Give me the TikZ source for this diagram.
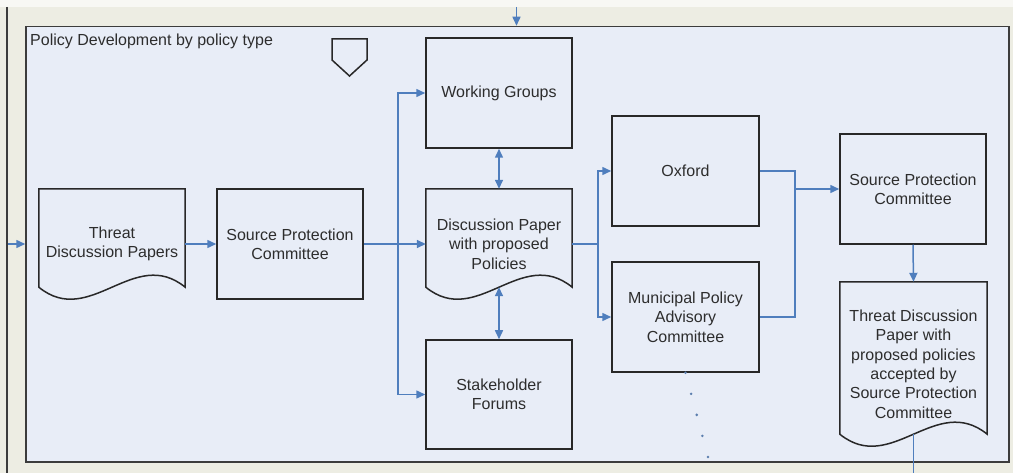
\documentclass[tikz,border=0pt]{standalone}
\usepackage{fontspec}
\setmainfont{Liberation Sans}
\usetikzlibrary{arrows.meta,calc}

\definecolor{pagebg}{RGB}{237,237,227}
\definecolor{topband}{RGB}{248,248,244}
\definecolor{lanefill}{RGB}{232,237,247}
\definecolor{laneedge}{RGB}{60,60,60}
\definecolor{boxedge}{RGB}{40,40,40}
\definecolor{flow}{RGB}{79,126,189}
\definecolor{txt}{RGB}{45,45,45}

% document symbol: straight top and sides, wavy bottom edge
\newcommand{\docoutline}[2]{%
  \draw[boxline] (#1.north west) -- ([yshift=12pt]#1.south west)
    .. controls ($([yshift=12pt]#1.south west)+(0.35*#2,41.6)$)
           and ($([yshift=12pt]#1.south east)+(-0.35*#2,-41.6)$)
    .. ([yshift=12pt]#1.south east) -- (#1.north east) -- cycle;}

\begin{document}
\begin{tikzpicture}[x=1pt,y=-1pt,
  font=\fontsize{16}{19.4}\selectfont,
  boxline/.style={draw=boxedge,line width=1.5pt,line join=miter},
  procbox/.style={boxline,fill=lanefill,text=txt,align=center,inner sep=0pt,
                  minimum width=146pt,minimum height=110pt},
  docbox/.style={text=txt,align=center,inner sep=0pt,minimum width=146pt},
  lane/.style={draw=laneedge,line width=1.5pt,fill=lanefill,inner sep=0pt,
               minimum width=983pt,minimum height=435.5pt},
  flowline/.style={draw=flow,line width=1.5pt},
  arr/.style={flowline,-{Triangle[length=9pt,width=8pt]}},
  biarr/.style={flowline,{Triangle[length=9pt,width=8pt]}-{Triangle[length=9pt,width=8pt]}},
  trail/.style={fill=flow!75!gray}
]
\useasboundingbox (0,0) rectangle (1013,473);

% page surround
\fill[pagebg] (0,0) rectangle (1013,473);
\fill[topband] (0,0) rectangle (1013,7);
\draw[laneedge,line width=1.2pt] (7,7) -- (7,473);

% swimlane container
\node[lane] (lane) at (517.5,244.25) {};
\node[anchor=base west,text=txt,inner sep=0pt] (title) at (30,46) {Policy Development by policy type};

% off-page reference marker
\draw[boxline,fill=lanefill] (332,39) -- (367,39) -- (367,60) -- (349.5,76) -- (332,60) -- cycle;

% process steps
\node[docbox,minimum height=110pt] (threat) at (112,244) {Threat\\Discussion Papers};
\node[procbox] (spc1) at (290,244) {Source Protection\\Committee};
\node[procbox] (wg) at (499,93) {Working Groups};
\node[docbox,minimum height=110pt] (dp) at (499,244) {Discussion Paper\\with proposed\\Policies};
\node[procbox,minimum height=109pt] (sf) at (499,394.5) {Stakeholder\\Forums};
\node[procbox,minimum width=147pt] (oxford) at (685.5,171) {Oxford};
\node[procbox,minimum width=147pt] (mpac) at (685.5,317) {Municipal Policy\\Advisory\\Committee};
\node[procbox] (spc2) at (913,189) {Source Protection\\Committee};
\node[docbox,minimum height=164pt,minimum width=147pt] (final) at (913.5,364)
  {Threat Discussion\\Paper with\\proposed policies\\accepted by\\Source Protection\\Committee};

\docoutline{threat}{146}
\docoutline{dp}{146}
\docoutline{final}{147}

% junction points
\coordinate (inleft) at (8,244);
\coordinate (intop) at (516.5,7);
\coordinate (j1) at (398,244);
\coordinate (j2) at (598,244);
\coordinate (j3) at (795,189);
\coordinate (outbottom) at (913.5,473);
\coordinate (trailend) at (708,457);

% connectors
\draw[arr] (inleft) -- (lane.west |- inleft);
\draw[arr] (intop) -- (intop |- lane.north);
\draw[arr] (threat.east) -- (spc1.west);
\draw[arr] (spc1.east) -- (dp.west);
\draw[arr] (j1) |- (wg.west);
\draw[arr] (j1) |- (sf.west);
\draw[biarr] (wg.south) -- (dp.north);
\draw[biarr] ([yshift=12pt]dp.south) -- (sf.north);
\draw[flowline] (dp.east) -- (j2);
\draw[arr] (j2) |- (oxford.west);
\draw[arr] (j2) |- (mpac.west);
\draw[flowline] (oxford.east) -| (j3) |- (mpac.east);
\draw[arr] (j3) -- (spc2.west);
\draw[arr] (spc2.south) -- (final.north);
\draw[flowline] ([yshift=12pt]final.south) -- (outbottom);

% dotted continuation below the municipal committee
\foreach \t in {0,0.25,0.5,0.75,1}
  \fill[trail] ($(mpac.south)!\t!(trailend)$) circle (1.4pt);
\end{tikzpicture}
\end{document}
